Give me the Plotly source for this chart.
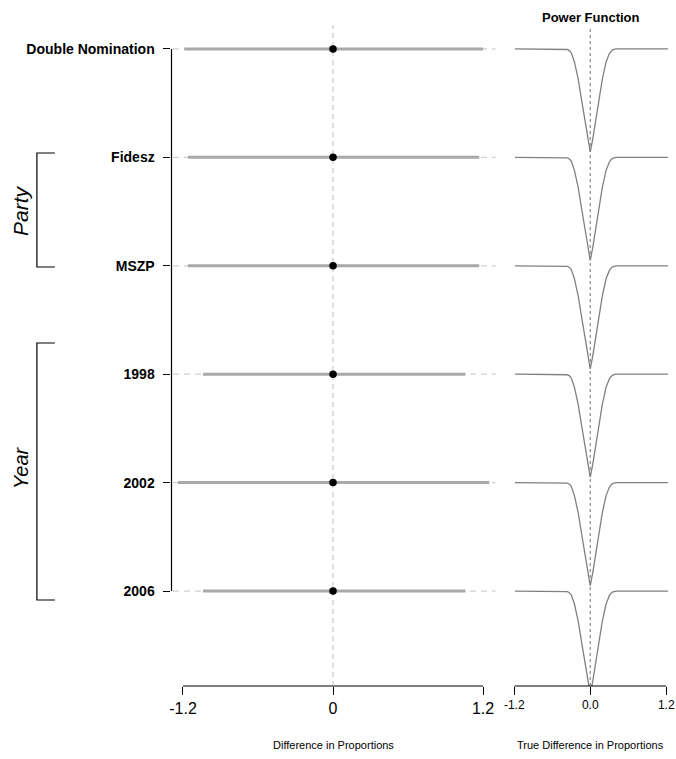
import plotly.graph_objects as go

# ---- data ----
labels = ["Double Nomination", "Fidesz", "MSZP", "1998", "2002", "2006"]
row_pos = [6, 5, 4, 3, 2, 1]
estimates = [0.0, 0.0, 0.0, 0.0, 0.0, 0.0]
ci_low = [-1.19, -1.16, -1.16, -1.04, -1.24, -1.04]
ci_high = [1.20, 1.17, 1.17, 1.06, 1.25, 1.06]
ref_span = [-1.28, 1.30]

left_ticks = [-1.2, 0, 1.2]
left_ticktext = ["-1.2", "0", "1.2"]
right_ticks = [-1.2, 0, 1.2]
right_ticktext = ["-1.2", "0.0", "1.2"]

# power function (true difference vs power)
power_x = [-1.19, -0.40, -0.36, -0.33, -0.30, -0.25, -0.19, -0.14, -0.09, -0.04, 0.0,
           0.04, 0.09, 0.14, 0.19, 0.25, 0.30, 0.33, 0.36, 0.41, 1.23]
power_y = [1.0, 1.0, 0.995, 0.985, 0.965, 0.88, 0.72, 0.54, 0.35, 0.17, 0.05,
           0.17, 0.35, 0.54, 0.72, 0.88, 0.955, 0.98, 0.993, 1.0, 1.0]

W, H = 676, 759
FONT = "Liberation Sans, Arial, sans-serif"


def py(p):  # pixel row -> paper y
    return (H - p) / H


def px(p):  # pixel col -> paper x
    return p / W


fig = go.Figure()

for lab, r, est, lo, hi in zip(labels, row_pos, estimates, ci_low, ci_high):
    fig.add_trace(go.Scatter(x=ref_span, y=[r, r], mode="lines", xaxis="x", yaxis="y",
                             line=dict(color="#cfcfcf", width=1.2, dash="6px,5px"),
                             hoverinfo="skip", showlegend=False))
    fig.add_trace(go.Scatter(x=[lo, hi], y=[r, r], mode="lines", xaxis="x", yaxis="y",
                             line=dict(color="#a9a9a9", width=3),
                             name=lab, showlegend=False))
    fig.add_trace(go.Scatter(x=[est], y=[r], mode="markers", xaxis="x", yaxis="y",
                             marker=dict(color="black", size=7.5),
                             name=lab, showlegend=False))
    fig.add_trace(go.Scatter(x=power_x, y=[r - (1 - p) for p in power_y], mode="lines",
                             xaxis="x2", yaxis="y",
                             line=dict(color="#808080", width=1.3),
                             name=lab, showlegend=False))

y_top, y_bot = 6.221, 0.124
fig.update_layout(
    width=W, height=H,
    margin=dict(l=0, r=0, t=0, b=0),
    plot_bgcolor="white", paper_bgcolor="white",
    showlegend=False,
    yaxis=dict(domain=[py(686), py(25)], range=[y_bot, y_top],
               tickvals=row_pos, ticktext=labels,
               ticks="outside", ticklen=7, tickcolor="black", tickwidth=1,
               ticklabelstandoff=6,
               tickfont=dict(family=FONT, size=14, color="black", weight="bold"),
               showgrid=False, zeroline=False, showline=False, anchor="x"),
    xaxis=dict(domain=[px(170), px(500)], range=[(170 - 332) / 125.4, (500 - 332) / 125.4],
               tickvals=left_ticks, ticktext=left_ticktext,
               ticks="outside", ticklen=8, tickcolor="black", tickwidth=1,
               tickfont=dict(family=FONT, size=16, color="black"),
               showgrid=False, zeroline=False, showline=False, anchor="y"),
    xaxis2=dict(domain=[px(505), 1.0], range=[(505 - 590) / 63.5, (676 - 590) / 63.5],
                tickvals=right_ticks, ticktext=right_ticktext,
                ticks="outside", ticklen=8, tickcolor="black", tickwidth=1,
                tickfont=dict(family=FONT, size=12, color="black"),
                showgrid=False, zeroline=False, showline=False, anchor="y"),
)

shapes = []
# reference vertical lines
shapes.append(dict(type="line", xref="x", yref="paper", x0=0, x1=0, y0=py(686), y1=py(25),
                   line=dict(color="#cfcfcf", width=1.3, dash="5px,4px"), layer="below"))
shapes.append(dict(type="line", xref="x2", yref="paper", x0=0, x1=0, y0=py(686), y1=py(28),
                   line=dict(color="#8a8a8a", width=1.2, dash="3px,3px"), layer="below"))
# bottom axis lines (R style, only across tick range)
shapes.append(dict(type="line", xref="x", yref="paper", x0=left_ticks[0], x1=left_ticks[-1],
                   y0=py(686), y1=py(686), line=dict(color="black", width=1.2)))
shapes.append(dict(type="line", xref="x2", yref="paper", x0=right_ticks[0], x1=right_ticks[-1],
                   y0=py(686), y1=py(686), line=dict(color="black", width=1.2)))
# left vertical axis line spanning first to last row
shapes.append(dict(type="line", xref="paper", yref="y", x0=px(170), x1=px(170),
                   y0=row_pos[-1], y1=row_pos[0], line=dict(color="black", width=1.2)))
# group brackets
for top, bot in [(153, 267), (343, 600)]:
    shapes.append(dict(type="path", xref="paper", yref="paper",
                       path=f"M {px(53)},{py(top)} L {px(35)},{py(top)} L {px(35)},{py(bot)} L {px(53)},{py(bot)}",
                       line=dict(color="black", width=1.2)))
fig.update_layout(shapes=shapes)

ann = [
    dict(text="<i>Party</i>", x=px(19), y=py(210), textangle=-90,
         font=dict(family=FONT, size=21, color="black")),
    dict(text="<i>Year</i>", x=px(19), y=py(468), textangle=-90,
         font=dict(family=FONT, size=20, color="black")),
    dict(text="Power Function", x=px(591), y=py(17),
         font=dict(family=FONT, size=13, color="black", weight="bold")),
    dict(text="Difference in Proportions", x=px(332), y=py(745),
         font=dict(family=FONT, size=11, color="black")),
    dict(text="True Difference in Proportions", x=px(590), y=py(745),
         font=dict(family=FONT, size=11, color="black")),
]
for a in ann:
    a.update(xref="paper", yref="paper", showarrow=False, xanchor="center", yanchor="middle")
fig.update_layout(annotations=ann)

fig.write_html("out.html", config={"displayModeBar": False},
               post_script="document.body.style.margin='0';document.body.style.overflow='hidden';")
